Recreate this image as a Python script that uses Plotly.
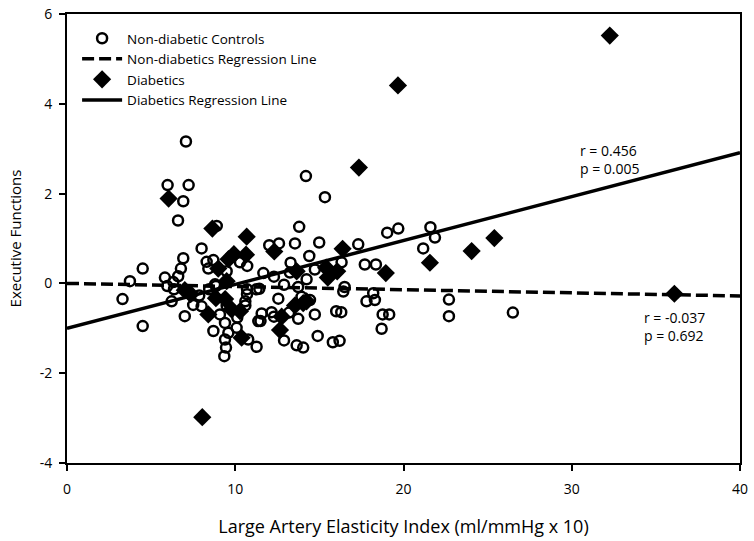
import plotly.graph_objects as go

# Non-diabetic controls
ctrl_x = [3.3, 3.74, 4.5, 4.5, 5.82, 5.96, 5.98, 6.32, 6.36, 6.6, 6.61, 6.77, 6.91, 6.91, 7.07,
          7.23, 6.22, 7.0, 7.5, 7.86, 8.0, 8.0, 8.3, 8.4, 8.45, 8.7, 8.85, 8.9, 8.7, 9.09,
          9.39, 9.49, 9.49, 9.59, 9.39, 9.45, 9.35, 10.08, 10.12, 10.28, 10.71, 10.7, 10.7, 10.6, 10.6,
          10.77, 11.27, 11.37, 11.27, 11.43, 11.57, 11.5, 11.67, 12.02, 12.16, 12.3, 12.3, 12.56, 12.6, 12.9,
          12.9, 13.25, 13.29, 13.2, 13.55, 13.65, 13.74, 13.74, 13.8, 13.94, 14.04, 14.2, 14.24, 14.4, 14.44,
          14.73, 14.73, 14.9, 14.99, 15.33, 15.8, 16.0, 16.2, 16.3, 16.32, 16.5, 16.42, 17.31, 17.7, 17.8,
          18.2, 18.3, 18.36, 18.76, 18.7, 19.15, 19.03, 19.69, 21.17, 21.6, 21.87, 22.7, 22.7, 26.5, 8.8]
ctrl_y = [-0.35, 0.05, 0.33, -0.95, 0.13, -0.06, 2.19, 0.03, -0.13, 1.40, 0.16, 0.33, 0.56, 1.83, 3.16,
          2.19, -0.40, -0.73, -0.48, -0.27, 0.78, -0.51, 0.48, 0.33, -0.13, 0.52, -0.06, 1.28, -1.06, -0.69,
          -0.88, 0.27, -0.50, -1.10, -1.25, -1.43, -1.62, -0.99, -0.76, 0.47, 0.39, -0.13, -0.24, -0.40, -0.49,
          -1.25, -0.13, -0.84, -1.41, -0.12, -0.67, -0.84, 0.23, 0.85, -0.64, 0.15, -0.74, -0.34, 0.89, -0.03,
          -1.27, 0.24, 0.46, -0.65, 0.89, -1.38, -0.08, -0.79, 1.26, -0.30, -1.43, 2.39, 0.09, 0.61, -0.37,
          0.31, -0.69, -1.17, 0.91, 1.92, -1.31, -0.62, -1.28, -0.64, 0.47, -0.08, -0.18, 0.87, 0.42, -0.40,
          -0.22, -0.37, 0.42, -0.69, -1.01, -0.69, 1.13, 1.22, 0.78, 1.25, 1.02, -0.36, -0.73, -0.65, -0.02]

# Diabetics
diab_x = [6.04, 8.64, 10.68, 9.92, 10.64, 9.6, 8.99, 9.49, 7.0, 7.35, 8.85, 9.4, 8.4, 9.78, 10.28,
          10.38, 8.04, 12.32, 13.65, 15.4, 15.5, 16.06, 16.38, 13.55, 14.04, 14.24, 12.76, 12.66, 17.35, 19.67,
          18.95, 21.57, 24.05, 25.4, 32.26, 36.1]
diab_y = [1.89, 1.22, 1.04, 0.65, 0.64, 0.54, 0.33, 0.05, -0.15, -0.24, -0.33, -0.35, -0.69, -0.58, -0.62,
          -1.21, -2.98, 0.71, 0.27, 0.35, 0.13, 0.27, 0.77, -0.49, -0.44, -0.40, -0.74, -1.04, 2.58, 4.41,
          0.23, 0.46, 0.72, 1.01, 5.52, -0.23]

# Regression line endpoints
line_x = [0, 40]
ctrl_line_y = [0.0, -0.28]
diab_line_y = [-1.0, 2.91]

x_ticks = [0, 10, 20, 30, 40]
y_ticks = [-4, -2, 0, 2, 4, 6]

FONT = "Open Sans"

fig = go.Figure()
fig.add_trace(go.Scatter(
    x=ctrl_x, y=ctrl_y, mode="markers", name="Non-diabetic Controls",
    marker=dict(symbol="circle-open", size=10, color="black", line=dict(width=2.5, color="black")),
))
fig.add_trace(go.Scatter(
    x=line_x, y=ctrl_line_y, mode="lines", name="Non-diabetics Regression Line",
    line=dict(color="black", width=3.5, dash="12px,5px"),
))
fig.add_trace(go.Scatter(
    x=diab_x, y=diab_y, mode="markers", name="Diabetics",
    marker=dict(symbol="diamond", size=14, color="black", line=dict(width=0)),
))
fig.add_trace(go.Scatter(
    x=line_x, y=diab_line_y, mode="lines", name="Diabetics Regression Line",
    line=dict(color="black", width=3.5),
))

fig.add_annotation(x=30.4, y=2.77, xref="x", yref="y", text="r = 0.456<br>p = 0.005",
                   showarrow=False, xanchor="left", yanchor="middle", align="left",
                   font=dict(family=FONT, size=14, color="black"))
fig.add_annotation(x=34.2, y=-0.95, xref="x", yref="y", text="r = -0.037<br>p = 0.692",
                   showarrow=False, xanchor="left", yanchor="middle", align="left",
                   font=dict(family=FONT, size=14, color="black"))

fig.update_layout(
    width=754, height=541,
    margin=dict(l=67, r=14, t=14, b=78),
    paper_bgcolor="white", plot_bgcolor="white",
    font=dict(family=FONT, size=13, color="black"),
    showlegend=True,
    legend=dict(x=0.015, y=0.98, xanchor="left", yanchor="top",
                bgcolor="rgba(0,0,0,0)", font=dict(family=FONT, size=13.5, color="black"),
                tracegroupgap=0, itemwidth=40),
)
fig.update_xaxes(
    range=[0, 40], tickvals=x_ticks, ticktext=[str(v) for v in x_ticks],
    showline=True, linecolor="black", linewidth=2, mirror=True,
    ticks="outside", ticklen=6, tickwidth=2, tickcolor="black",
    ticklabelstandoff=6,
    showgrid=False, zeroline=False, automargin=False,
    tickfont=dict(family=FONT, size=14, color="black"),
    title=dict(text="Large Artery Elasticity Index (ml/mmHg x 10)", standoff=24,
               font=dict(family=FONT, size=18, color="black")),
)
fig.update_yaxes(
    range=[-4, 6], tickvals=y_ticks, ticktext=[str(v) for v in y_ticks],
    showline=True, linecolor="black", linewidth=2, mirror=True,
    ticks="outside", ticklen=6, tickwidth=2, tickcolor="black",
    ticklabelstandoff=4,
    showgrid=False, zeroline=False, automargin=False,
    tickfont=dict(family=FONT, size=14, color="black"),
    title=dict(text="Executive Functions", standoff=14,
               font=dict(family=FONT, size=15, color="black")),
)

fig.write_html("out.html", post_script="document.body.style.margin='0';",
               config={"displayModeBar": False})
